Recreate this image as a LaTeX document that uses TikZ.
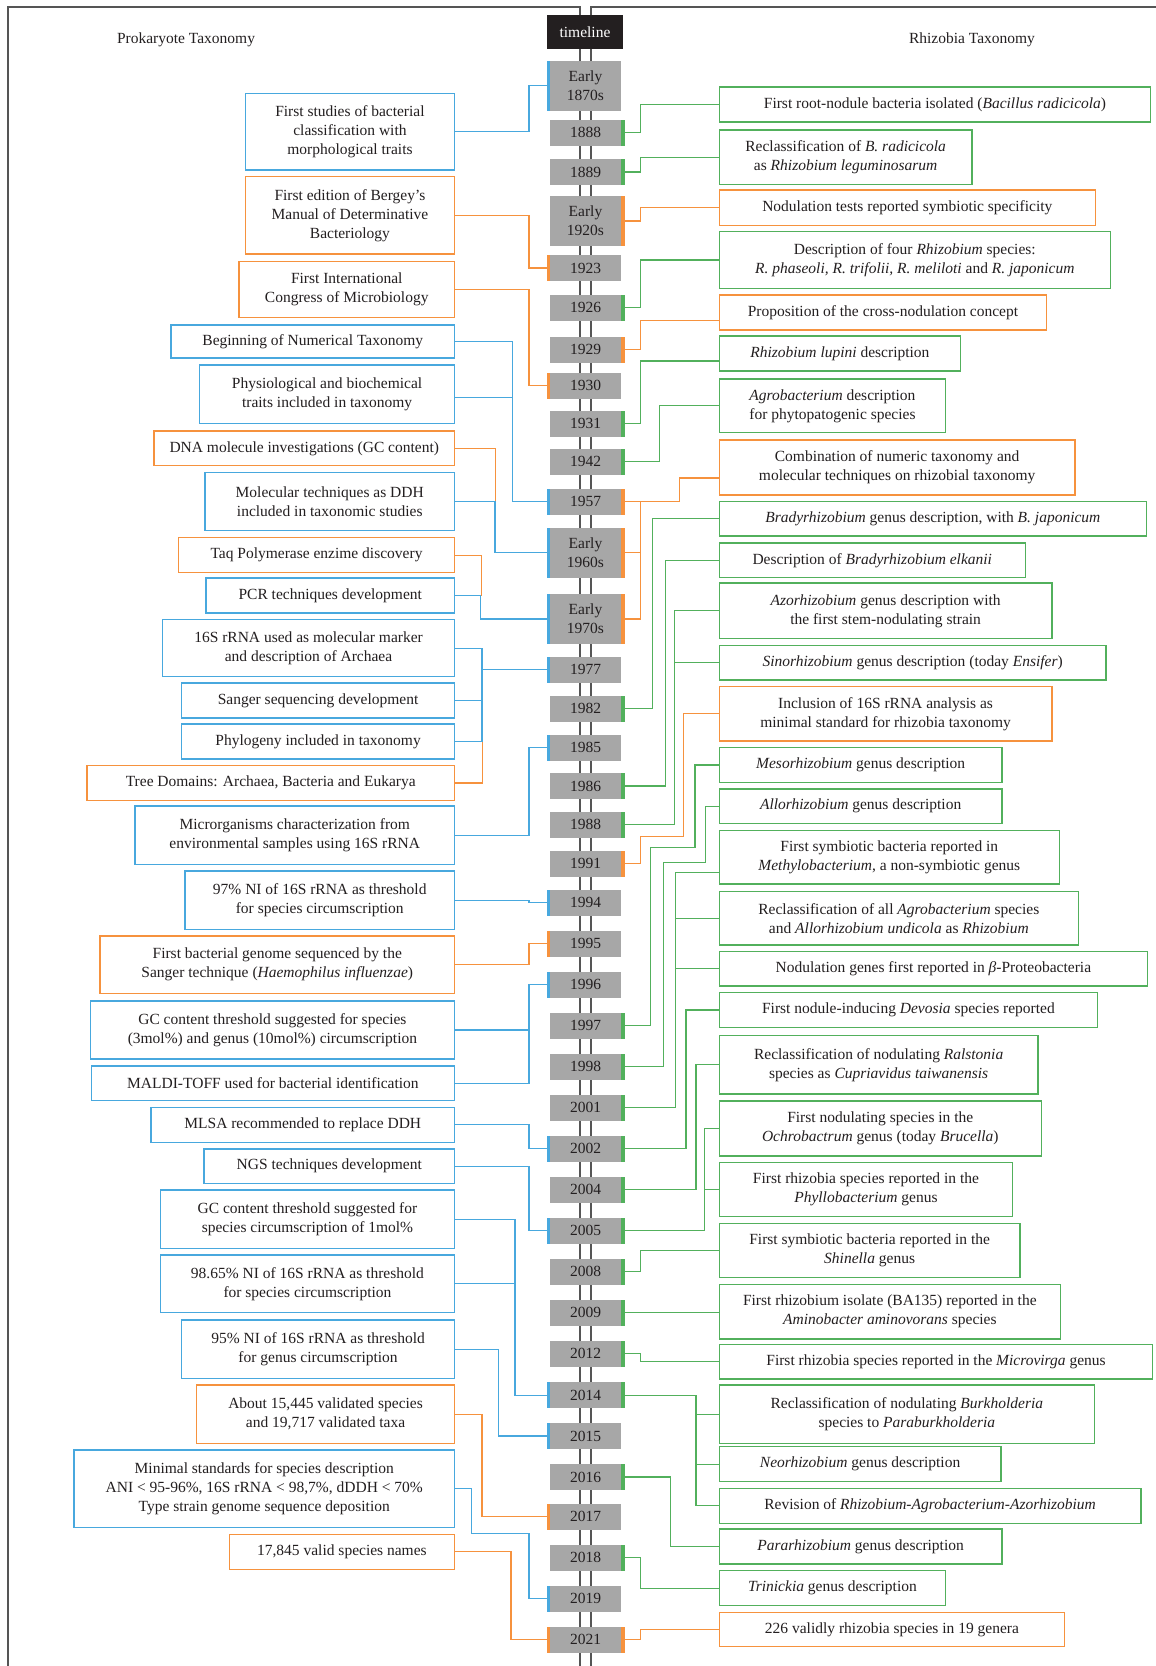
\documentclass[tikz,border=0pt]{standalone}
\usepackage{fontspec}
\setmainfont{Liberation Serif}
\definecolor{blueC}{RGB}{72,168,222}
\definecolor{orangeC}{RGB}{246,146,62}
\definecolor{greenC}{RGB}{82,176,92}
\definecolor{yGray}{RGB}{167,167,167}
\definecolor{txt}{RGB}{35,31,32}
\definecolor{frameC}{RGB}{85,85,85}
\newcommand\mkbox[7]{\node[#6, minimum width={#4-#2}, minimum height={#5-#3}] (#1) at ({(#2+#4)/2},{(#3+#5)/2}) {#7};}
\newcommand\mkyear[4]{\node[ybox, minimum height=#3] (#1) at (585.5,#2) {#4};}
\newcommand\lbar[2]{\fill[#2] ([xshift=-3.5pt]#1.north west) rectangle (#1.south west);}
\newcommand\rbar[2]{\fill[#2] (#1.north east) rectangle ([xshift=3.5pt]#1.south east);}
\begin{document}
\begin{tikzpicture}[x=1pt,y=-1pt,
  every node/.style={font=\fontsize{15.5}{19}\selectfont, text=txt, align=center, inner sep=0pt},
  lb/.style={draw=blueC, line width=1.3pt, fill=white},
  lo/.style={draw=orangeC, line width=1.3pt, fill=white},
  lg/.style={draw=greenC, line width=1.3pt, fill=white},
  ybox/.style={fill=yGray, minimum width=71, outer sep=0pt},
  cb/.style={draw=blueC, line width=1.2pt},
  co/.style={draw=orangeC, line width=1.2pt},
  cg/.style={draw=greenC, line width=1.2pt},
  frame/.style={draw=frameC, line width=1.4pt}]
\useasboundingbox (0,0) rectangle (1156,1666);
% frames / timeline rails
\draw[frame] (580,1666) -- (580,7) -- (8,7) -- (8,1666);
\draw[frame] (590.8,1666) -- (590.8,7) -- (1160,7);
% headers
\node (hL) at (186,40) {Prokaryote Taxonomy};
\node (hR) at (972,40) {Rhizobia Taxonomy};
\node[fill=txt, text=white, minimum width=76, minimum height=34] (tl) at (585,32) {timeline};
% year boxes
\mkyear{Y1870}{85.85}{49.7}{Early\\1870s}
\mkyear{Y1888}{132.85}{25.7}{1888}
\mkyear{Y1889}{172}{25.7}{1889}
\mkyear{Y1920}{221}{50}{Early\\1920s}
\mkyear{Y1923}{268}{25.7}{1923}
\mkyear{Y1926}{307.85}{25.7}{1926}
\mkyear{Y1929}{349.85}{25.7}{1929}
\mkyear{Y1930}{385.85}{25.7}{1930}
\mkyear{Y1931}{423.85}{25.7}{1931}
\mkyear{Y1942}{461.85}{25.7}{1942}
\mkyear{Y1957}{501.85}{25.7}{1957}
\mkyear{Y1960}{552.85}{49.7}{Early\\1960s}
\mkyear{Y1970}{619}{50}{Early\\1970s}
\mkyear{Y1977}{669.85}{25.7}{1977}
\mkyear{Y1982}{708.85}{25.7}{1982}
\mkyear{Y1985}{747.85}{25.7}{1985}
\mkyear{Y1986}{786}{25.7}{1986}
\mkyear{Y1988}{824.85}{25.7}{1988}
\mkyear{Y1991}{863.85}{25.7}{1991}
\mkyear{Y1994}{902.85}{25.7}{1994}
\mkyear{Y1995}{943.85}{25.7}{1995}
\mkyear{Y1996}{984.85}{25.7}{1996}
\mkyear{Y1997}{1025.85}{25.7}{1997}
\mkyear{Y1998}{1066.85}{25.7}{1998}
\mkyear{Y2001}{1107.85}{25.7}{2001}
\mkyear{Y2002}{1148.85}{25.7}{2002}
\mkyear{Y2004}{1189.85}{25.7}{2004}
\mkyear{Y2005}{1230.85}{25.7}{2005}
\mkyear{Y2008}{1271.85}{25.7}{2008}
\mkyear{Y2009}{1312.85}{25.7}{2009}
\mkyear{Y2012}{1353.85}{25.7}{2012}
\mkyear{Y2014}{1395.15}{25.7}{2014}
\mkyear{Y2015}{1436}{25.7}{2015}
\mkyear{Y2016}{1477}{25.7}{2016}
\mkyear{Y2017}{1516.85}{25.7}{2017}
\mkyear{Y2018}{1557.85}{25.7}{2018}
\mkyear{Y2019}{1598.85}{25.7}{2019}
\mkyear{Y2021}{1639.85}{25.7}{2021}
% left boxes
\mkbox{L1}{245.4}{93.5}{454.5}{170}{lb}{First studies of bacterial\\classification with\\morphological traits}
\mkbox{L2}{245.4}{176.7}{454.5}{254}{lo}{First edition of Bergey’s\\Manual of Determinative\\Bacteriology}
\mkbox{L3}{239}{261.4}{454.5}{317.7}{lo}{First International\\Congress of Microbiology}
\mkbox{L4}{171}{325}{454.5}{358}{lb}{Beginning of Numerical Taxonomy}
\mkbox{L5}{199.7}{365}{454.5}{423.3}{lb}{Physiological and biochemical\\traits included in taxonomy}
\mkbox{L6}{154}{431}{454.5}{465.7}{lo}{DNA molecule investigations (GC content)}
\mkbox{L7}{205}{472.3}{454.5}{530.7}{lb}{Molecular techniques as DDH\\included in taxonomic studies}
\mkbox{L8}{178.5}{537.7}{454.5}{572.7}{lo}{Taq Polymerase enzime discovery}
\mkbox{L9}{206}{578}{454.5}{613}{lb}{PCR techniques development}
\mkbox{L10}{162.6}{619.4}{454.5}{676.8}{lb}{16S rRNA used as molecular marker\\and description of Archaea}
\mkbox{L11}{181.7}{683}{454.5}{718}{lb}{Sanger sequencing development}
\mkbox{L12}{181.7}{724}{454.5}{759}{lb}{Phylogeny included in taxonomy}
\mkbox{L13}{87}{765.7}{454.5}{800.3}{lo}{Tree Domains: Archaea, Bacteria and Eukarya}
\mkbox{L14}{135}{806}{454.5}{864.3}{lb}{Microrganisms characterization from\\environmental samples using 16S rRNA}
\mkbox{L15}{185}{871}{454.5}{929.3}{lb}{97\% NI of 16S rRNA as threshold\\for species circumscription}
\mkbox{L16}{100}{936}{454.5}{993.4}{lo}{First bacterial genome sequenced by the\\Sanger technique (\textit{Haemophilus influenzae})}
\mkbox{L17}{90.3}{1001}{454.5}{1059}{lb}{GC content threshold suggested for species\\(3mol\%) and genus (10mol\%) circumscription}
\mkbox{L18}{91.4}{1066}{454.5}{1100.7}{lb}{MALDI-TOFF used for bacterial identification}
\mkbox{L19}{151}{1107.3}{454.5}{1142.3}{lb}{MLSA recommended to replace DDH}
\mkbox{L20}{204}{1149}{454.5}{1183.3}{lb}{NGS techniques development}
\mkbox{L21}{160.4}{1190}{454.5}{1248.3}{lb}{GC content threshold suggested for\\species circumscription of 1mol\%}
\mkbox{L22}{160.4}{1255}{454.5}{1312.7}{lb}{98.65\% NI of 16S rRNA as threshold\\for species circumscription}
\mkbox{L23}{181.7}{1320}{454.5}{1378.3}{lb}{95\% NI of 16S rRNA as threshold\\for genus circumscription}
\mkbox{L24}{196.6}{1385}{454.5}{1443.3}{lo}{About 15,445 validated species\\and 19,717 validated taxa}
\mkbox{L25}{74}{1450}{454.5}{1527.7}{lb}{Minimal standards for species description\\ANI < 95-96\%, 16S rRNA < 98,7\%, dDDH < 70\%\\Type strain genome sequence deposition}
\mkbox{L26}{229.3}{1534.3}{454.5}{1569.3}{lo}{17,845 valid species names}
% right boxes
\mkbox{R1}{719.3}{87}{1150.7}{122}{lg}{First root-nodule bacteria isolated (\textit{Bacillus radicicola})}
\mkbox{R2}{719.3}{130}{972}{184.3}{lg}{Reclassification of \textit{B. radicicola}\\as \textit{Rhizobium leguminosarum}}
\mkbox{R3}{719.3}{190}{1095.4}{225.7}{lo}{Nodulation tests reported symbiotic specificity}
\mkbox{R4}{719.3}{231.7}{1110.3}{288.3}{lg}{Description of four \textit{Rhizobium} species:\\\textit{R. phaseoli, R. trifolii, R. meliloti} and \textit{R. japonicum}}
\mkbox{R5}{719.3}{295}{1046.6}{330}{lo}{Proposition of the cross-nodulation concept}
\mkbox{R6}{719.3}{336}{960.5}{371}{lg}{\textit{Rhizobium lupini} description}
\mkbox{R7}{719.3}{379}{945.6}{432.7}{lg}{\textit{Agrobacterium} description\\for phytopatogenic species}
\mkbox{R8}{719.3}{440}{1075}{495}{lo}{Combination of numeric taxonomy and\\molecular techniques on rhizobial taxonomy}
\mkbox{R9}{719.3}{501.7}{1146.4}{536}{lg}{\textit{Bradyrhizobium} genus description, with \textit{B. japonicum}}
\mkbox{R10}{719.3}{543}{1025.3}{577.7}{lg}{Description of \textit{Bradyrhizobium elkanii}}
\mkbox{R11}{719.3}{583}{1051.9}{638.6}{lg}{\textit{Azorhizobium} genus description with\\the first stem-nodulating strain}
\mkbox{R12}{719.3}{645.7}{1106}{680}{lg}{\textit{Sinorhizobium} genus description (today \textit{Ensifer})}
\mkbox{R13}{719.3}{686.7}{1051.9}{741}{lo}{Inclusion of 16S rRNA analysis as\\minimal standard for rhizobia taxonomy}
\mkbox{R14}{719.3}{747.7}{1002}{782.3}{lg}{\textit{Mesorhizobium} genus description}
\mkbox{R15}{719.3}{789}{1002}{823.3}{lg}{\textit{Allorhizobium} genus description}
\mkbox{R16}{719.3}{830.7}{1059.3}{884}{lg}{First symbiotic bacteria reported in\\\textit{Methylobacterium}, a non-symbiotic genus}
\mkbox{R17}{719.3}{891.7}{1078.4}{945}{lg}{Reclassification of all \textit{Agrobacterium} species\\and \textit{Allorhizobium undicola} as \textit{Rhizobium}}
\mkbox{R18}{719.3}{951.7}{1147.5}{986}{lg}{Nodulation genes first reported in \textit{β}-Proteobacteria}
\mkbox{R19}{719.3}{992.7}{1097.6}{1027.3}{lg}{First nodule-inducing \textit{Devosia} species reported}
\mkbox{R20}{719.3}{1035.7}{1038}{1094}{lg}{Reclassification of nodulating \textit{Ralstonia}\\species as \textit{Cupriavidus taiwanensis}}
\mkbox{R21}{719.3}{1101}{1041.3}{1156}{lg}{First nodulating species in the\\\textit{Ochrobactrum} genus (today \textit{Brucella})}
\mkbox{R22}{719.3}{1162.3}{1012.6}{1216.7}{lg}{First rhizobia species reported in the\\\textit{Phyllobacterium} genus}
\mkbox{R23}{719.3}{1223.3}{1020}{1277.7}{lg}{First symbiotic bacteria reported in the\\\textit{Shinella} genus}
\mkbox{R24}{719.3}{1284.3}{1060.4}{1339}{lg}{First rhizobium isolate (BA135) reported in the\\\textit{Aminobacter aminovorans} species}
\mkbox{R25}{719.3}{1344.3}{1152.8}{1379}{lg}{First rhizobia species reported in the \textit{Microvirga} genus}
\mkbox{R26}{719.3}{1385}{1094.4}{1443.3}{lg}{Reclassification of nodulating \textit{Burkholderia}\\species to \textit{Paraburkholderia}}
\mkbox{R27}{719.3}{1446.7}{1000.9}{1481.7}{lg}{\textit{Neorhizobium} genus description}
\mkbox{R28}{719.3}{1488.3}{1141}{1523.3}{lg}{Revision of \textit{Rhizobium-Agrobacterium-Azorhizobium}}
\mkbox{R29}{719.3}{1529}{1002}{1564}{lg}{\textit{Pararhizobium} genus description}
\mkbox{R30}{719.3}{1570.7}{945.6}{1605.7}{lg}{\textit{Trinickia} genus description}
\mkbox{R31}{719.3}{1612.3}{1064.6}{1646.7}{lo}{226 validly rhizobia species in 19 genera}
% left connectors
\draw[cb] (L1.east) -| ([xshift=-21pt]Y1870.west) -- (Y1870.west);
\draw[co] (L2.east) -| ([xshift=-21pt]Y1923.west) -- (Y1923.west);
\draw[co] (L3.east) -| ([xshift=-21pt]Y1930.west) -- (Y1930.west);
\draw[cb] (L4.east) -| ([xshift=-37.3pt]Y1957.west) -- (Y1957.west);
\draw[cb] ([yshift=-3.5pt]L5.east) -| ([xshift=-37.3pt]Y1957.west);
\draw[co] (L6.east) -| ([xshift=40.5pt]L7.east);
\draw[cb] (L7.east) -| ([xshift=-55pt]Y1960.west) -- (Y1960.west);
\draw[co] (L8.east) -| ([xshift=26.2pt]L9.east);
\draw[cb] (L9.east) -| ([xshift=-69.3pt]Y1970.west) -- (Y1970.west);
\draw[cb] (L10.east) -| ([xshift=-68pt]Y1977.west) -- (Y1977.west);
\draw[cb] (L11.east) -| ([xshift=-68pt]Y1977.west);
\draw[cb] (L12.east) -| ([xshift=-68pt]Y1977.west);
\draw[co] (L13.east) -| ([xshift=27.5pt]L12.east);
\draw[cb] (L14.east) -| ([xshift=-21pt]Y1985.west) -- (Y1985.west);
\draw[cb] (L15.east) -| ([xshift=-21pt]Y1994.west) -- (Y1994.west);
\draw[co] (L16.east) -| ([xshift=-21pt]Y1995.west) -- (Y1995.west);
\draw[cb] (L17.east) -| ([xshift=-21pt]Y1996.west) -- (Y1996.west);
\draw[cb] (L18.east) -| ([xshift=-21pt]Y1996.west);
\draw[cb] (L19.east) -| ([xshift=-21pt]Y2002.west) -- (Y2002.west);
\draw[cb] (L20.east) -| ([xshift=-21pt]Y2005.west) -- (Y2005.west);
\draw[cb] (L21.east) -| ([xshift=-35pt]Y2014.west) -- (Y2014.west);
\draw[cb] (L22.east) -| ([xshift=-35pt]Y2014.west);
\draw[cb] (L23.east) -| ([xshift=-51.3pt]Y2015.west) -- (Y2015.west);
\draw[co] (L24.east) -| ([xshift=-68pt]Y2017.west) -- (Y2017.west);
\draw[cb] (L25.east) -| ([xshift=16.5pt,yshift=-45pt]L25.east) -| ([xshift=-21pt]Y2019.west) -- (Y2019.west);
\draw[co] (L26.east) -| ([xshift=-39pt]Y2021.west) -- (Y2021.west);
% right connectors
\draw[cg] (Y1888.east) -- ++(19.7,0) |- (R1.west);
\draw[cg] (Y1889.east) -- ++(19.7,0) |- (R2.west);
\draw[co] (Y1920.east) -- ++(19.7,0) |- (R3.west);
\draw[cg] (Y1926.east) -- ++(19.7,0) |- (R4.west);
\draw[co] (Y1929.east) -- ++(19.7,0) |- ([yshift=-7.8pt]R5.west);
\draw[cg] (Y1931.east) -- ++(19.7,0) |- ([yshift=-7.5pt]R6.west);
\draw[cg] (Y1942.east) -- ++(38.3,0) |- (R7.west);
\draw[co] (Y1957.east) -- ++(58.3,0) |- ([yshift=-10.5pt]R8.west);
\draw[co] (Y1957.east) ++(19.7,0) |- (Y1970.east);
\draw[co] (Y1960.east) -- ++(19.7,0);
\draw[cg] (Y1982.east) -- ++(31.3,0) |- (R9.west);
\draw[cg] (Y1986.east) -- ++(44.3,0) |- (R10.west);
\draw[cg] (Y1988.east) -- ++(53.3,0) |- (R11.west);
\draw[cg] (Y1988.east) ++(53.3,0) |- (R12.west);
\draw[co] (Y1991.east) -- ++(19.7,0) |- ++(43,-27.15) |- (R13.west);
\draw[cg] (Y1997.east) -- ++(29.7,0) |- ++(44.3,-178.15) |- (R14.west);
\draw[cg] (Y1998.east) -- ++(42.3,0) |- ++(42.4,-204.55) |- (R15.west);
\draw[cg] (Y2001.east) -- ++(54.3,0) |- ([yshift=-15pt]R16.west);
\draw[cg] (Y2001.east) ++(54.3,0) |- (R17.west);
\draw[cg] (Y2001.east) ++(54.3,0) |- (R18.west);
\draw[cg] (Y2002.east) -- ++(65,0) |- (R19.west);
\draw[cg] (Y2004.east) -- ++(75,0) |- (R20.west);
\draw[cg] (Y2005.east) -- ++(83.7,0) |- (R21.west);
\draw[cg] (Y2005.east) ++(83.7,0) |- (R22.west);
\draw[cg] (Y2008.east) -- ++(19.7,0) |- (R23.west);
\draw[cg] (Y2009.east) -- (Y2009.east -| R24.west);
\draw[cg] (Y2012.east) -- ++(19.7,0) |- (R25.west);
\draw[cg] (Y2014.east) -- ++(75,0) |- (R26.west);
\draw[cg] (Y2014.east) ++(75,0) |- (R27.west);
\draw[cg] (Y2014.east) ++(75,0) |- (R28.west);
\draw[cg] (Y2016.east) -- ++(49.7,0) |- (R29.west);
\draw[cg] (Y2018.east) -- ++(19.7,0) |- (R30.west);
\draw[co] (Y2021.east) -- ++(19.7,0) |- (R31.west);
% colour bars on year boxes
\lbar{Y1870}{blueC}
\rbar{Y1888}{greenC}
\rbar{Y1889}{greenC}
\rbar{Y1920}{orangeC}
\lbar{Y1923}{orangeC}
\rbar{Y1926}{greenC}
\rbar{Y1929}{orangeC}
\lbar{Y1930}{orangeC}
\rbar{Y1931}{greenC}
\rbar{Y1942}{greenC}
\lbar{Y1957}{blueC}\rbar{Y1957}{orangeC}
\lbar{Y1960}{blueC}\rbar{Y1960}{orangeC}
\lbar{Y1970}{blueC}\rbar{Y1970}{orangeC}
\lbar{Y1977}{blueC}
\rbar{Y1982}{greenC}
\lbar{Y1985}{blueC}
\rbar{Y1986}{greenC}
\rbar{Y1988}{greenC}
\rbar{Y1991}{orangeC}
\lbar{Y1994}{blueC}
\lbar{Y1995}{orangeC}
\lbar{Y1996}{blueC}
\rbar{Y1997}{greenC}
\rbar{Y1998}{greenC}
\rbar{Y2001}{greenC}
\lbar{Y2002}{blueC}\rbar{Y2002}{greenC}
\rbar{Y2004}{greenC}
\lbar{Y2005}{blueC}\rbar{Y2005}{greenC}
\rbar{Y2008}{greenC}
\rbar{Y2009}{greenC}
\rbar{Y2012}{greenC}
\lbar{Y2014}{blueC}\rbar{Y2014}{greenC}
\lbar{Y2015}{blueC}
\rbar{Y2016}{greenC}
\lbar{Y2017}{orangeC}
\rbar{Y2018}{greenC}
\lbar{Y2019}{blueC}
\lbar{Y2021}{orangeC}\rbar{Y2021}{orangeC}
\end{tikzpicture}
\end{document}
